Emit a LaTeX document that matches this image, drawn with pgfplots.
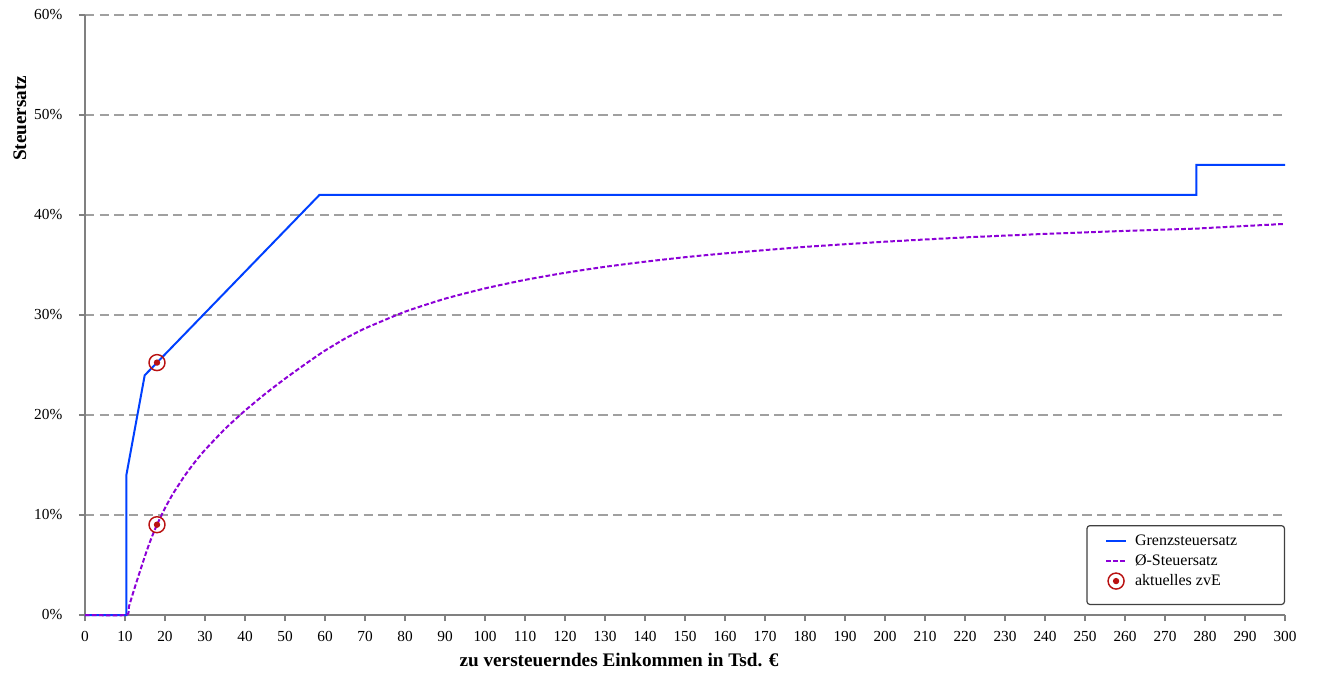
\documentclass[border=0pt]{standalone}
\usepackage{fontspec}
\setmainfont{Liberation Serif}
\usepackage{pgfplots}
\pgfplotsset{compat=1.18}
\definecolor{gblue}{RGB}{0,64,255}
\definecolor{gpurple}{RGB}{140,0,215}
\definecolor{mred}{RGB}{185,18,18}
\definecolor{axgray}{RGB}{128,128,128}
\definecolor{gridgray}{RGB}{160,160,160}
\pgfdeclareplotmark{ringdot}{%
  \pgfpathcircle{\pgfpointorigin}{\pgfplotmarksize}\pgfusepathqstroke
  \pgfpathcircle{\pgfpointorigin}{0.4\pgfplotmarksize}\pgfusepathqfill}
\pgfplotsset{
  lineleg/.style={legend image code/.code={\draw[##1] (0pt,0pt) -- (15pt,0pt);}},
  markleg/.style={legend image code/.code={\draw[##1] plot coordinates {(7.5pt,0pt)};}},
}
\begin{document}
\begin{tikzpicture}
\begin{axis}[
  name=ax,
  scale only axis, width=900pt, height=450pt,
  xmin=0, xmax=300, ymin=0, ymax=60,
  axis lines*=left,
  axis line style={axgray, line width=1.3pt},
  xtick={0,10,...,300}, ytick={0,10,...,60},
  tick style={axgray, line width=1pt},
  tick align=outside, major tick length=4.5pt,
  ymajorgrids,
  grid style={gridgray, line width=1.1pt, dash pattern=on 7pt off 4pt},
  /pgf/number format/assume math mode=true,
  ticklabel style={font=\fontsize{11.5}{13}\selectfont},
  yticklabel={\pgfmathprintnumber{\tick}\%},
  yticklabel style={xshift=-9pt},
  xticklabel style={yshift=-4.5pt},
  xlabel={\textbf{zu versteuerndes Einkommen in Tsd. €}},
  ylabel={\textbf{Steuersatz}},
  label style={font=\fontsize{14.4}{16}\selectfont},
  xlabel style={at={(axis description cs:0.445,0)}, anchor=center, yshift=-33.75pt},
  ylabel style={at={(axis description cs:-0.0542,0.828)}, anchor=center},
  clip=false,
  legend cell align=left,
  legend style={at={(1,{10/600})}, anchor=south east, draw=darkgray, line width=0.9pt,
    rounded corners=2pt, font=\fontsize{12}{15}\selectfont,
    inner xsep=13.5pt, inner ysep=4pt, column sep=4.5pt,
    nodes={text height=9pt, text depth=3pt, inner sep=1.5pt}},
  lineleg,
]
\addplot[gblue, line width=1.5pt] coordinates {
(0,0) (10.347,0) (10.347,14) (14.926,23.97) (58.596,42) (277.826,42) (277.826,45) (300,45)};
\addlegendentry{\makebox[97pt][l]{Grenzsteuersatz}}
\addplot[gpurple, line width=1.5pt, dash pattern=on 3.5pt off 1.7pt, smooth, tension=0.3] coordinates {
(0,0) (10.347,0) (11,0.87) (12,2.18) (13,3.45) (14.926,5.82) (16,7.06) (17,8.09) (18,9.03)
(20,10.69) (22,12.13) (25,13.97) (27.5,15.31) (30,16.51) (35,18.61) (40,20.44) (45,22.10)
(50,23.63) (55,25.07) (58.596,26.07) (60,26.44) (65,27.64) (70,28.66) (80,30.33) (90,31.63)
(100,32.66) (110,33.51) (120,34.22) (130,34.82) (140,35.33) (150,35.78) (160,36.16)
(180,36.81) (200,37.33) (220,37.76) (240,38.11) (260,38.41) (277.826,38.64) (280,38.69) (300,39.11)};
\addlegendentry{Ø-Steuersatz}
\addplot[only marks, mark=ringdot, mark size=6pt, mred, line width=1.1pt, markleg] coordinates {
(18,25.24) (18,9.03)};
\addlegendentry{aktuelles zvE}
\addlegendimage{empty legend}
\addlegendentry[text height=0pt, text depth=6pt, inner ysep=0pt]{}
\end{axis}
\path[use as bounding box] ([xshift=-63.75pt, yshift=-47.25pt]ax.south west) rectangle ([xshift=35.25pt, yshift=11.25pt]ax.north east);
\end{tikzpicture}
\end{document}
